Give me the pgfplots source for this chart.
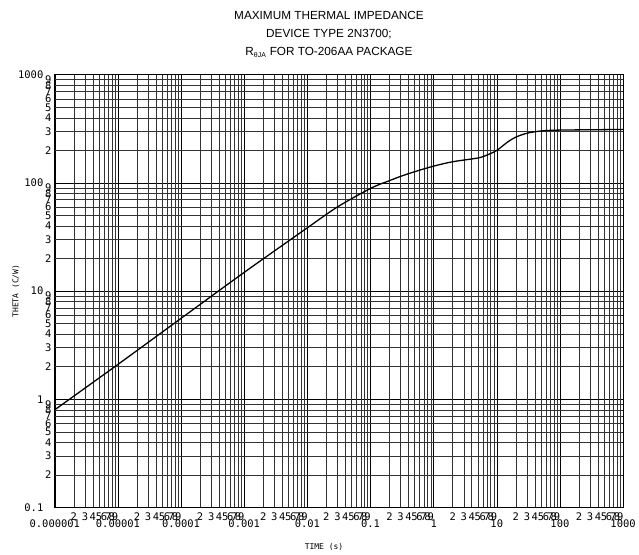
\documentclass[border=0pt]{standalone}
\usepackage{fontspec}
\setmainfont{Liberation Sans}
\newfontfamily\monofont{DejaVu Sans Mono}
\usepackage{pgfplots}
\pgfplotsset{compat=1.18}
\begin{document}
\begin{tikzpicture}
\begin{axis}[
  scale only axis, width=570pt, height=434pt,
  xmode=log, ymode=log,
  xmin=1e-6, xmax=1000, ymin=0.1, ymax=1000,
  xtick={1e-6,1e-5,1e-4,1e-3,1e-2,1e-1,1,10,100,1000},
  xticklabels={0.000001,0.00001,0.0001,0.001,0.01,0.1,1,10,100,1000},
  ytick={0.1,1,10,100,1000},
  yticklabels={0.1,1,10,100,1000},
  minor xtick={}, minor ytick={},
  extra x ticks={2e-6,3e-6,4e-6,5e-6,6e-6,7e-6,8e-6,9e-6,
    2e-5,3e-5,4e-5,5e-5,6e-5,7e-5,8e-5,9e-5,
    2e-4,3e-4,4e-4,5e-4,6e-4,7e-4,8e-4,9e-4,
    2e-3,3e-3,4e-3,5e-3,6e-3,7e-3,8e-3,9e-3,
    2e-2,3e-2,4e-2,5e-2,6e-2,7e-2,8e-2,9e-2,
    0.2,0.3,0.4,0.5,0.6,0.7,0.8,0.9,
    2,3,4,5,6,7,8,9,
    20,30,40,50,60,70,80,90,
    200,300,400,500,600,700,800,900},
  extra x tick labels={2,3,4,5,6,7,8,9,2,3,4,5,6,7,8,9,2,3,4,5,6,7,8,9,
    2,3,4,5,6,7,8,9,2,3,4,5,6,7,8,9,2,3,4,5,6,7,8,9,
    2,3,4,5,6,7,8,9,2,3,4,5,6,7,8,9,2,3,4,5,6,7,8,9},
  extra y ticks={0.2,0.3,0.4,0.5,0.6,0.7,0.8,0.9,
    2,3,4,5,6,7,8,9,
    20,30,40,50,60,70,80,90,
    200,300,400,500,600,700,800,900},
  extra y tick labels={2,3,4,5,6,7,8,9,2,3,4,5,6,7,8,9,
    2,3,4,5,6,7,8,9,2,3,4,5,6,7,8,9},
  extra x tick style={grid=major, major grid style={black!80, line width=0.45pt},
    tick label style={font=\monofont\bfseries\fontsize{4.5}{5}\selectfont, yshift=7pt}},
  extra y tick style={grid=major, major grid style={black!80, line width=0.45pt},
    tick label style={font=\monofont\bfseries\fontsize{4.5}{5}\selectfont, xshift=8pt}},
  grid=major,
  major grid style={black, line width=0.55pt},
  major tick length=0pt, minor tick length=0pt,
  axis line style={black, line width=0.8pt},
  x tick label style={font=\monofont\fontsize{10.5}{12}\selectfont, yshift=-9pt},
  y tick label style={font=\monofont\fontsize{10.5}{12}\selectfont, xshift=-8pt},
  title={MAXIMUM THERMAL IMPEDANCE\\DEVICE TYPE 2N3700;\\R\textsubscript{\fontsize{7}{8}\selectfont θJA} FOR TO-206AA PACKAGE},
  title style={at={(0.5,1)}, anchor=south, yshift=8pt, xshift=-10pt, align=center,
    font=\fontsize{11.8}{18}\selectfont},
  xlabel={TIME (s)},
  xlabel style={at={(axis description cs:0.5,0)}, anchor=north, yshift=-33pt, xshift=-15pt,
    font=\monofont\fontsize{8}{9}\selectfont},
  ylabel={THETA (C/W)},
  ylabel style={at={(axis description cs:0,0.5)}, anchor=south, yshift=32pt,
    font=\monofont\fontsize{8}{9}\selectfont},
]
\coordinate (bl) at (rel axis cs:0,0);
\coordinate (tr) at (rel axis cs:1,1);
\addplot[black, line width=1.3pt, smooth] coordinates {
  (1e-6,0.80) (1e-5,2.1) (1e-4,5.6) (1e-3,14.9) (1e-2,38.5) (3e-2,60)
  (0.1,89) (0.2,105) (0.3,115) (0.5,127) (1,143) (2,157) (5,170) (7,181)
  (10,200) (15,240) (20,265) (30,288) (50,302) (100,308) (1000,312)
};
\end{axis}
\path ([shift={(-55pt,-45pt)}]bl) rectangle ([shift={(14pt,75pt)}]tr);
\end{tikzpicture}
\end{document}
